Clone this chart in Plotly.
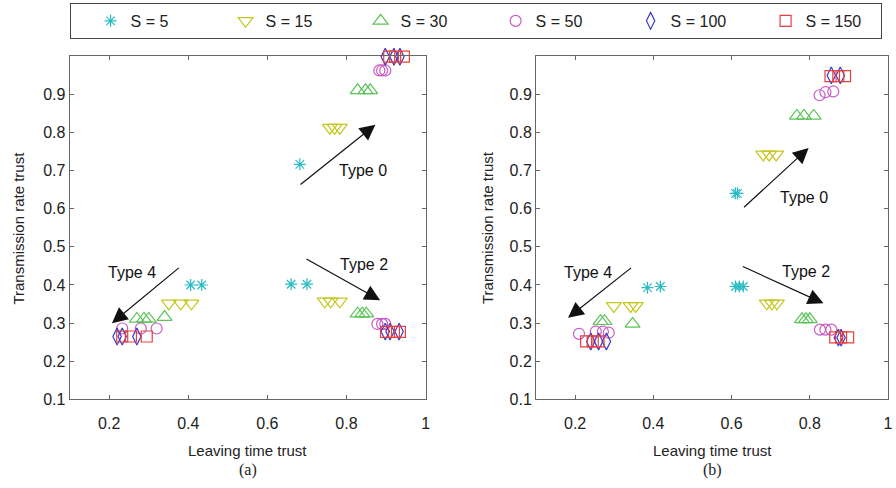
import plotly.graph_objects as go

# ---------------- data ----------------
SERIES = ["S = 5", "S = 15", "S = 30", "S = 50", "S = 100", "S = 150"]

# panel (a)
A_S5_X = [0.682, 0.66, 0.70, 0.406, 0.434]
A_S5_Y = [0.716, 0.402, 0.402, 0.400, 0.400]
A_S15_X = [0.758, 0.770, 0.783, 0.745, 0.760, 0.783, 0.351, 0.381, 0.408]
A_S15_Y = [0.812, 0.812, 0.812, 0.357, 0.357, 0.357, 0.352, 0.352, 0.352]
A_S30_X = [0.828, 0.848, 0.860, 0.828, 0.840, 0.850, 0.270, 0.288, 0.300, 0.340]
A_S30_Y = [0.910, 0.910, 0.910, 0.325, 0.325, 0.325, 0.311, 0.311, 0.311, 0.316]
A_S50_X = [0.883, 0.890, 0.898, 0.878, 0.890, 0.898, 0.233, 0.280, 0.320]
A_S50_Y = [0.962, 0.962, 0.962, 0.298, 0.298, 0.298, 0.286, 0.286, 0.286]
A_S100_X = [0.898, 0.920, 0.935, 0.898, 0.910, 0.933, 0.220, 0.233, 0.270]
A_S100_Y = [0.998, 0.998, 0.998, 0.278, 0.278, 0.278, 0.265, 0.265, 0.265]
A_S150_X = [0.908, 0.923, 0.945, 0.900, 0.920, 0.935, 0.233, 0.255, 0.295]
A_S150_Y = [0.998, 0.998, 0.998, 0.277, 0.277, 0.277, 0.265, 0.265, 0.265]

# panel (b)
B_S5_X = [0.610, 0.615, 0.610, 0.620, 0.630, 0.385, 0.418]
B_S5_Y = [0.640, 0.640, 0.396, 0.396, 0.396, 0.393, 0.396]
B_S15_X = [0.681, 0.696, 0.714, 0.690, 0.703, 0.716, 0.299, 0.342, 0.355]
B_S15_Y = [0.742, 0.742, 0.742, 0.352, 0.352, 0.352, 0.345, 0.345, 0.345]
B_S30_X = [0.767, 0.785, 0.810, 0.780, 0.790, 0.800, 0.265, 0.275, 0.347]
B_S30_Y = [0.843, 0.843, 0.843, 0.310, 0.310, 0.310, 0.305, 0.305, 0.298]
B_S50_X = [0.825, 0.840, 0.860, 0.826, 0.840, 0.855, 0.210, 0.253, 0.271, 0.286]
B_S50_Y = [0.897, 0.905, 0.907, 0.283, 0.283, 0.283, 0.272, 0.278, 0.278, 0.275]
B_S100_X = [0.855, 0.878, 0.873, 0.880, 0.240, 0.260, 0.280]
B_S100_Y = [0.949, 0.949, 0.262, 0.262, 0.252, 0.252, 0.252]
B_S150_X = [0.853, 0.873, 0.890, 0.865, 0.880, 0.898, 0.228, 0.245, 0.260]
B_S150_Y = [0.947, 0.947, 0.947, 0.263, 0.263, 0.263, 0.252, 0.252, 0.252]

X_TICKS = [0.2, 0.4, 0.6, 0.8, 1.0]
X_TICK_LABELS = ["0.2", "0.4", "0.6", "0.8", "1"]
Y_TICKS = [0.1, 0.2, 0.3, 0.4, 0.5, 0.6, 0.7, 0.8, 0.9]
Y_TICK_LABELS = ["0.1", "0.2", "0.3", "0.4", "0.5", "0.6", "0.7", "0.8", "0.9"]

# arrows: (tail_x, tail_y, head_x, head_y, label, label_x, label_y)
A_ARROWS = [
    (0.680, 0.660, 0.873, 0.820, "Type 0", 0.842, 0.700),
    (0.695, 0.470, 0.885, 0.360, "Type 2", 0.845, 0.453),
    (0.380, 0.448, 0.207, 0.300, "Type 4", 0.258, 0.432),
]
B_ARROWS = [
    (0.628, 0.600, 0.797, 0.759, "Type 0", 0.785, 0.630),
    (0.625, 0.450, 0.835, 0.352, "Type 2", 0.790, 0.435),
    (0.347, 0.448, 0.182, 0.314, "Type 4", 0.233, 0.432),
]

# ---------------- styles ----------------
W, H = 896, 488
COLORS = ["#2bbcc6", "#c6c620", "#5cc45a", "#c85cc4", "#3a3ac4", "#e8403e"]
SYMBOLS = ["asterisk-open", "triangle-down-open", "triangle-up-open",
           "circle-open", "diamond-tall-open", "square-open"]
SIZES = [10, 13, 13, 11, 12, 11]
FONT = "Liberation Sans, Arial, sans-serif"

fig = go.Figure()

A_DATA = [(A_S5_X, A_S5_Y), (A_S15_X, A_S15_Y), (A_S30_X, A_S30_Y),
          (A_S50_X, A_S50_Y), (A_S100_X, A_S100_Y), (A_S150_X, A_S150_Y)]
B_DATA = [(B_S5_X, B_S5_Y), (B_S15_X, B_S15_Y), (B_S30_X, B_S30_Y),
          (B_S50_X, B_S50_Y), (B_S100_X, B_S100_Y), (B_S150_X, B_S150_Y)]

for i, name in enumerate(SERIES):
    mk = dict(symbol=SYMBOLS[i], size=SIZES[i], color=COLORS[i],
              line=dict(color=COLORS[i], width=1.2))
    fig.add_trace(go.Scatter(x=A_DATA[i][0], y=A_DATA[i][1], mode="markers",
                             name=name, marker=mk, xaxis="x", yaxis="y",
                             cliponaxis=False, showlegend=True))
    fig.add_trace(go.Scatter(x=B_DATA[i][0], y=B_DATA[i][1], mode="markers",
                             name=name, marker=mk, xaxis="x2", yaxis="y2",
                             cliponaxis=False, showlegend=False))

ydom = [1 - 407 / H, 1 - 57 / H]
axis_common = dict(range=[0.1, 1.0], showgrid=False, zeroline=False,
                   showline=True, linecolor="#666666", linewidth=1,
                   mirror="ticks", ticks="inside", ticklen=4,
                   tickcolor="#666666",
                   tickfont=dict(family=FONT, size=16, color="#222"))

fig.update_layout(
    width=W, height=H,
    margin=dict(l=0, r=0, t=0, b=0, pad=0),
    paper_bgcolor="white", plot_bgcolor="white",
    xaxis=dict(domain=[70 / W, 428 / W], anchor="y", tickvals=X_TICKS,
               ticktext=X_TICK_LABELS, ticklabelstandoff=9, **axis_common),
    yaxis=dict(domain=ydom, anchor="x", tickvals=Y_TICKS,
               ticktext=Y_TICK_LABELS, **axis_common),
    xaxis2=dict(domain=[539 / W, 893 / W], anchor="y2", tickvals=X_TICKS,
                ticktext=X_TICK_LABELS, ticklabelstandoff=9, **axis_common),
    yaxis2=dict(domain=ydom, anchor="x2", tickvals=Y_TICKS,
                ticktext=Y_TICK_LABELS, **axis_common),
    legend=dict(orientation="h", x=70 / W, xanchor="left", y=1 - 3 / H,
                yanchor="top", bordercolor="#444", borderwidth=1,
                font=dict(family=FONT, size=16, color="#222"),
                entrywidth=70, entrywidthmode="pixels", indentation=20,
                bgcolor="white"),
    showlegend=True,
)

annotations = []
for arrows, xr, yr in [(A_ARROWS, "x", "y"), (B_ARROWS, "x2", "y2")]:
    for tx, ty, hx, hy, lab, lx, ly in arrows:
        annotations.append(dict(x=hx, y=hy, ax=tx, ay=ty, xref=xr, yref=yr,
                                axref=xr, ayref=yr, text="", showarrow=True,
                                arrowhead=2, arrowsize=2.6, arrowwidth=1.2,
                                arrowcolor="#111"))
        annotations.append(dict(x=lx, y=ly, xref=xr, yref=yr, text=lab,
                                showarrow=False, xanchor="center",
                                yanchor="middle",
                                font=dict(family=FONT, size=16, color="#111")))

for cx, ylab_x, sub in [(249, 19, "(a)"), (716, 490, "(b)")]:
    annotations.append(dict(x=cx / W, y=1 - 459 / H, xref="paper", yref="paper",
                            text="Leaving time trust", showarrow=False,
                            xanchor="center", yanchor="middle",
                            font=dict(family=FONT, size=15, color="#222")))
    annotations.append(dict(x=cx / W, y=1 - 479 / H, xref="paper", yref="paper",
                            text=sub, showarrow=False,
                            xanchor="center", yanchor="middle",
                            font=dict(family="Liberation Serif, Times New Roman, serif",
                                      size=16, color="#222")))
    annotations.append(dict(x=ylab_x / W, y=1 - 232 / H, xref="paper", yref="paper",
                            text="Transmission rate trust", showarrow=False,
                            textangle=-90, xanchor="center", yanchor="middle",
                            font=dict(family=FONT, size=15, color="#222")))

fig.update_layout(annotations=annotations)
# remove the browser's default 8px page margin so the figure fills the window
fig.write_html("out.html",
               config={"displayModeBar": False},
               post_script="document.body.style.margin='0px';"
                           "document.body.style.overflow='hidden';")
